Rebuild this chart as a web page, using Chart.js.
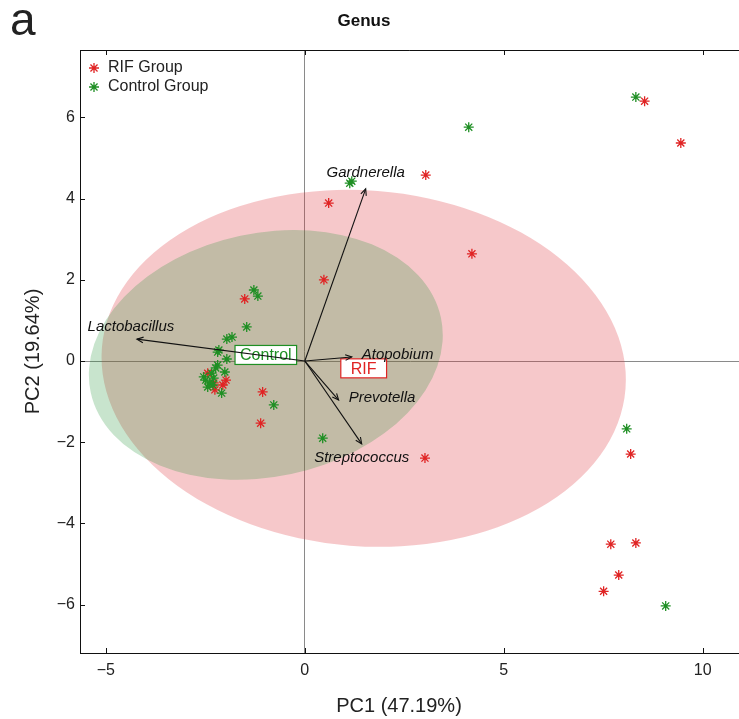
<!DOCTYPE html>
<html>
<head>
<meta charset="utf-8">
<script src="https://cdn.jsdelivr.net/npm/chart.js@4.4.0/dist/chart.umd.min.js"></script>
<style>
  html, body { margin: 0; padding: 0; background: #fff; overflow: hidden; }
  #wrap { width: 739px; height: 719px; overflow: hidden; }
</style>
</head>
<body>
<div id="wrap"><canvas id="pca" width="746" height="719"></canvas></div>
<script>
// PCA scores
const rifX = [8.54, 9.45, 3.04, 0.60, 4.20, 0.48, -1.51, -1.06, -1.11, 3.02, 8.19, 7.69, 8.32, 7.89, 7.51, -2.44, -1.98, -2.06, -2.26, -2.29]
const rifY = [6.40, 5.37, 4.58, 3.89, 2.64, 2.00, 1.53, -0.76, -1.53, -2.39, -2.29, -4.51, -4.48, -5.27, -5.67, -0.30, -0.47, -0.59, -0.71, -0.54]
const ctrlX = [8.32, 4.12, 1.13, 1.18, -1.28, -1.18, -1.46, -1.96, -1.83, -2.16, -1.96, -2.19, -2.24, -2.34, -2.49, -2.39, -2.29, -2.54, -2.44, -2.19, -2.01, -2.09, -2.31, -0.78, 0.45, 8.09, 9.07]
const ctrlY = [6.50, 5.76, 4.38, 4.43, 1.75, 1.60, 0.84, 0.54, 0.59, 0.27, 0.05, 0.22, -0.17, -0.30, -0.47, -0.54, -0.42, -0.39, -0.64, -0.10, -0.27, -0.79, -0.59, -1.08, -1.90, -1.67, -6.03]

// genus loadings (arrow tips)
const genera = ['Lactobacillus', 'Gardnerella', 'Atopobium', 'Prevotella', 'Streptococcus']
const loadX = [-4.22, 1.53, 1.18, 0.85, 1.43]
const loadY = [0.54, 4.24, 0.10, -0.96, -2.04]

// group ellipses: centre, semi axes, rotation in degrees
const groups = ['RIF', 'Control']
const ellCx = [1.48, -0.98]
const ellCy = [-0.18, 0.15]
const ellA = [6.6, 4.5]
const ellB = [4.38, 3.0]
const ellRot = [-4.5, 12]

const xTicks = [-5, 0, 5, 10]
const yTicks = [-6, -4, -2, 0, 2, 4, 6]
const xTitle = 'PC1 (47.19%)'
const yTitle = 'PC2 (19.64%)'

const FONT = "'Liberation Sans', Arial, sans-serif"
const RED = '#e02424'
const GREEN = '#1f8f24'
const groupFill = ['rgba(220,50,60,0.27)', 'rgba(35,147,55,0.25)']
const groupColor = [RED, GREEN]
const boxPad = [10, 5]

// where each genus name sits relative to its arrow tip (px)
const labelPos = {
  Lactobacillus: { dx: -6, dy: -12, align: 'center' },
  Gardnerella: { dx: 0, dy: -16, align: 'center' },
  Atopobium: { dx: 10, dy: -2, align: 'left' },
  Prevotella: { dx: 10, dy: -2, align: 'left' },
  Streptococcus: { dx: 0, dy: 14, align: 'center' }
}

function pts(xs, ys) {
  return xs.map((x, i) => ({ x: x, y: ys[i] }))
}

const minus = v => String(v).replace('-', '\u2212')

const arrowSets = genera.map((g, i) => ({
  label: g,
  data: [{ x: 0, y: 0 }, { x: loadX[i], y: loadY[i] }],
  showLine: true,
  borderColor: '#111',
  borderWidth: 1.1,
  pointRadius: 0,
  order: 0
}))

function star(ctx, cx, cy, r, color) {
  const d = r * Math.SQRT1_2
  ctx.strokeStyle = color
  ctx.lineWidth = 1.3
  ctx.beginPath()
  ctx.moveTo(cx - r, cy); ctx.lineTo(cx + r, cy)
  ctx.moveTo(cx, cy - r); ctx.lineTo(cx, cy + r)
  ctx.moveTo(cx - d, cy - d); ctx.lineTo(cx + d, cy + d)
  ctx.moveTo(cx - d, cy + d); ctx.lineTo(cx + d, cy - d)
  ctx.stroke()
}

const decor = {
  id: 'decor',
  beforeDatasetsDraw(chart) {
    const { ctx, chartArea: a } = chart
    const x = chart.scales.x, y = chart.scales.y
    ctx.save()
    ctx.beginPath()
    ctx.rect(a.left, a.top, a.right - a.left, a.bottom - a.top)
    ctx.clip()
    groups.forEach((g, i) => {
      const cx = x.getPixelForValue(ellCx[i])
      const cy = y.getPixelForValue(ellCy[i])
      const rx = Math.abs(x.getPixelForValue(ellCx[i] + ellA[i]) - cx)
      const ry = Math.abs(y.getPixelForValue(ellCy[i] + ellB[i]) - cy)
      ctx.beginPath()
      ctx.ellipse(cx, cy, rx, ry, -ellRot[i] * Math.PI / 180, 0, 2 * Math.PI)
      ctx.fillStyle = groupFill[i]
      ctx.fill()
    })
    // group name boxes at the ellipse centres
    ctx.font = '16px ' + FONT
    ctx.textAlign = 'center'
    ctx.textBaseline = 'middle'
    groups.forEach((g, i) => {
      const cx = x.getPixelForValue(ellCx[i])
      const cy = y.getPixelForValue(ellCy[i])
      const w = ctx.measureText(g).width + 2 * boxPad[i]
      const h = 19
      ctx.fillStyle = '#fff'
      ctx.fillRect(cx - w / 2, cy - h / 2, w, h)
      ctx.strokeStyle = groupColor[i]
      ctx.lineWidth = 1.2
      ctx.strokeRect(cx - w / 2, cy - h / 2, w, h)
      ctx.fillStyle = groupColor[i]
      ctx.fillText(g, cx, cy + 1)
    })
    ctx.restore()
  },
  afterDatasetsDraw(chart) {
    const { ctx } = chart
    const x = chart.scales.x, y = chart.scales.y
    const ox = x.getPixelForValue(0), oy = y.getPixelForValue(0)
    ctx.save()
    ctx.strokeStyle = '#111'
    ctx.lineWidth = 1.1
    ctx.fillStyle = '#111'
    ctx.font = 'italic 15px ' + FONT
    ctx.textBaseline = 'middle'
    genera.forEach((g, i) => {
      const tx = x.getPixelForValue(loadX[i]), ty = y.getPixelForValue(loadY[i])
      const ang = Math.atan2(ty - oy, tx - ox)
      const len = 7, spread = 0.42
      ctx.beginPath()
      ctx.moveTo(tx - len * Math.cos(ang - spread), ty - len * Math.sin(ang - spread))
      ctx.lineTo(tx, ty)
      ctx.lineTo(tx - len * Math.cos(ang + spread), ty - len * Math.sin(ang + spread))
      ctx.stroke()
      const p = labelPos[g]
      ctx.textAlign = p.align
      ctx.fillText(g, tx + p.dx, ty + p.dy)
    })
    ctx.restore()
  },
  afterDraw(chart) {
    const { ctx, chartArea: a } = chart
    const x = chart.scales.x, y = chart.scales.y
    ctx.save()
    // top frame line and inward ticks
    ctx.strokeStyle = '#111'
    ctx.lineWidth = 1
    ctx.beginPath()
    ctx.moveTo(a.left, a.top + 0.5)
    ctx.lineTo(a.right, a.top + 0.5)
    xTicks.forEach(v => {
      const px = Math.round(x.getPixelForValue(v)) + 0.5
      ctx.moveTo(px, a.bottom)
      ctx.lineTo(px, a.bottom - 5)
      ctx.moveTo(px, a.top)
      ctx.lineTo(px, a.top + 5)
    })
    yTicks.forEach(v => {
      const py = Math.round(y.getPixelForValue(v)) + 0.5
      ctx.moveTo(a.left, py)
      ctx.lineTo(a.left + 5, py)
    })
    ctx.stroke()

    // legend inside the plot
    const items = [['RIF Group', RED], ['Control Group', GREEN]]
    ctx.font = '16px ' + FONT
    ctx.textAlign = 'left'
    ctx.textBaseline = 'middle'
    items.forEach((it, i) => {
      const ly = 68 + i * 19
      star(ctx, 94, ly, 5, it[1])
      ctx.fillStyle = '#222'
      ctx.fillText(it[0], 108, ly)
    })

    // x axis title (the original panel is centred a little left of the visible area)
    ctx.fillStyle = '#222'
    ctx.textAlign = 'center'
    ctx.font = '20px ' + FONT
    ctx.fillText(xTitle, 399, 706)

    // panel letter and title
    ctx.textAlign = 'left'
    ctx.textBaseline = 'alphabetic'
    ctx.font = '46px ' + FONT
    ctx.fillText('a', 10, 35)
    ctx.fillStyle = '#111'
    ctx.textAlign = 'center'
    ctx.font = 'bold 17px ' + FONT
    ctx.fillText('Genus', 364, 26)
    ctx.restore()
  }
}

new Chart(document.getElementById('pca'), {
  type: 'scatter',
  data: {
    datasets: arrowSets.concat([
      {
        label: 'Control Group',
        data: pts(ctrlX, ctrlY),
        pointStyle: 'star',
        pointRadius: 5,
        borderColor: GREEN,
        backgroundColor: GREEN,
        borderWidth: 1.3,
        order: 1
      },
      {
        label: 'RIF Group',
        data: pts(rifX, rifY),
        pointStyle: 'star',
        pointRadius: 5,
        borderColor: RED,
        backgroundColor: RED,
        borderWidth: 1.3,
        order: 2
      }
    ])
  },
  options: {
    responsive: false,
    animation: false,
    devicePixelRatio: 1,
    layout: { padding: { top: 50, right: 0, bottom: 0, left: 0 } },
    plugins: {
      legend: { display: false },
      tooltip: { enabled: false },
      title: { display: false }
    },
    scales: {
      x: {
        type: 'linear',
        min: -5.65,
        max: 10.93,
        afterBuildTicks: s => { s.ticks = xTicks.map(v => ({ value: v })) },
        afterFit: s => { s.height = 66 },
        ticks: {
          callback: v => minus(v),
          color: '#222',
          padding: 8,
          maxRotation: 0,
          font: { family: FONT, size: 16 }
        },
        grid: {
          drawTicks: false,
          color: c => (c.tick && c.tick.value === 0 ? '#8a8a8a' : 'rgba(0,0,0,0)'),
          lineWidth: 1
        },
        border: { color: '#111', width: 1 },
        title: { display: false }
      },
      y: {
        type: 'linear',
        min: -7.19,
        max: 7.66,
        afterBuildTicks: s => { s.ticks = yTicks.map(v => ({ value: v })) },
        afterFit: s => { s.width = 80 },
        ticks: {
          callback: v => minus(v),
          color: '#222',
          padding: 5,
          font: { family: FONT, size: 16 }
        },
        grid: {
          drawTicks: false,
          color: c => (c.tick && c.tick.value === 0 ? '#8a8a8a' : 'rgba(0,0,0,0)'),
          lineWidth: 1
        },
        border: { color: '#111', width: 1 },
        title: {
          display: true,
          text: yTitle,
          color: '#222',
          font: { family: FONT, size: 20 },
          padding: { top: 21, bottom: 0 }
        }
      }
    }
  },
  plugins: [decor]
})
</script>
</body>
</html>
